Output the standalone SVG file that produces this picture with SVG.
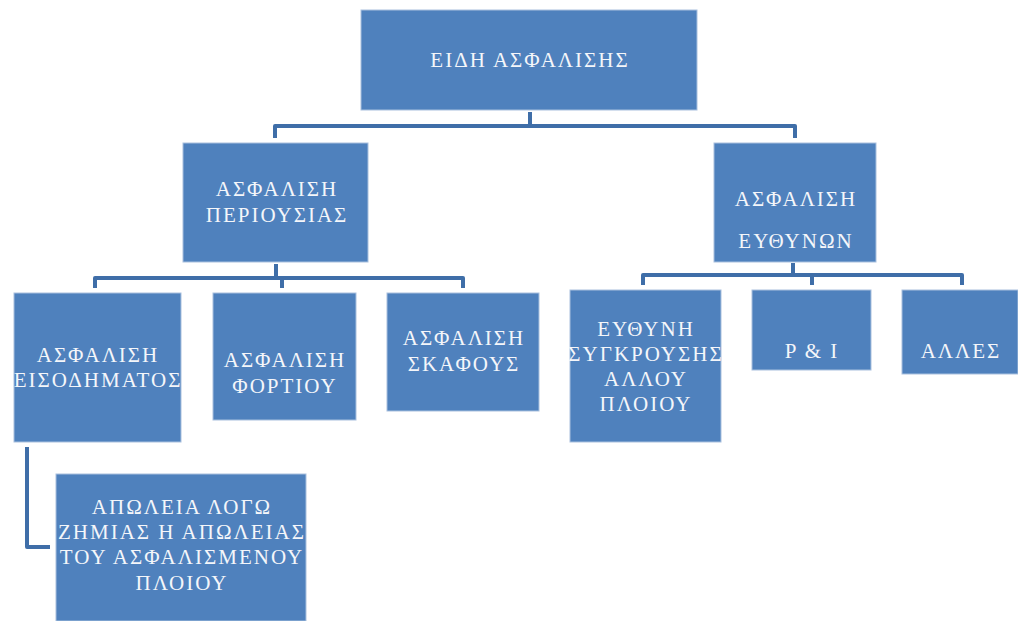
<svg xmlns="http://www.w3.org/2000/svg" width="1018" height="621" viewBox="0 0 1018 621">
<style>
.box{fill:#4F81BD;stroke:#A9C0DE;stroke-width:1}
.t{font-family:"Liberation Serif","DejaVu Serif",serif;font-size:21px;letter-spacing:2px;fill:#F4F6FA;text-anchor:middle}
.c{fill:none;stroke:#3F6EA8;stroke-width:4;stroke-linejoin:round}
</style>
<rect width="1018" height="621" fill="#fff"/>
<g id="connectors">
<path class="c" d="M530,112 V126 M275,138 V126 H795 V138"/>
<path class="c" d="M276,264 V278 M95,288 V278 H463 V288 M282,278 V288"/>
<path class="c" d="M793,263 V275 M643,285 V275 H962 V285 M812,275 V285"/>
<path class="c" d="M27,447 V547 H50"/>
</g>
<g id="n-root"><rect class="box" x="361" y="10" width="336" height="100"/><text class="t" x="530" y="67">ΕΙΔΗ ΑΣΦΑΛΙΣΗΣ</text></g>
<g id="n-periousias"><rect class="box" x="183" y="143" width="185" height="119"/><text class="t" x="277" y="196">ΑΣΦΑΛΙΣΗ</text><text class="t" x="277" y="222">ΠΕΡΙΟΥΣΙΑΣ</text></g>
<g id="n-efthynon"><rect class="box" x="714" y="143" width="162" height="119"/><text class="t" x="796" y="206">ΑΣΦΑΛΙΣΗ</text><text class="t" x="796" y="248">ΕΥΘΥΝΩΝ</text></g>
<g id="n-eisodimatos"><rect class="box" x="14" y="293" width="167" height="149"/><text class="t" x="98" y="362">ΑΣΦΑΛΙΣΗ</text><text class="t" x="98" y="387">ΕΙΣΟΔΗΜΑΤΟΣ</text></g>
<g id="n-fortiou"><rect class="box" x="213" y="293" width="143" height="127"/><text class="t" x="285" y="367">ΑΣΦΑΛΙΣΗ</text><text class="t" x="285" y="393">ΦΟΡΤΙΟΥ</text></g>
<g id="n-skafous"><rect class="box" x="387" y="293" width="152" height="118"/><text class="t" x="464" y="345">ΑΣΦΑΛΙΣΗ</text><text class="t" x="464" y="371">ΣΚΑΦΟΥΣ</text></g>
<g id="n-sygkrousis"><rect class="box" x="570" y="290" width="151" height="152"/><text class="t" x="646" y="336">ΕΥΘΥΝΗ</text><text class="t" x="646" y="361">ΣΥΓΚΡΟΥΣΗΣ</text><text class="t" x="646" y="386">ΑΛΛΟΥ</text><text class="t" x="646" y="411">ΠΛΟΙΟΥ</text></g>
<g id="n-pi"><rect class="box" x="752" y="290" width="119" height="80"/><text class="t" x="812" y="358">P &amp; I</text></g>
<g id="n-alles"><rect class="box" x="902" y="290" width="116" height="84"/><text class="t" x="961" y="358">ΑΛΛΕΣ</text></g>
<g id="n-apoleia"><rect class="box" x="56" y="474" width="250" height="147"/><text class="t" x="182" y="514">ΑΠΩΛΕΙΑ ΛΟΓΩ</text><text class="t" x="182" y="539">ΖΗΜΙΑΣ Η ΑΠΩΛΕΙΑΣ</text><text class="t" x="182" y="564">ΤΟΥ ΑΣΦΑΛΙΣΜΕΝΟΥ</text><text class="t" x="182" y="590">ΠΛΟΙΟΥ</text></g>
</svg>
